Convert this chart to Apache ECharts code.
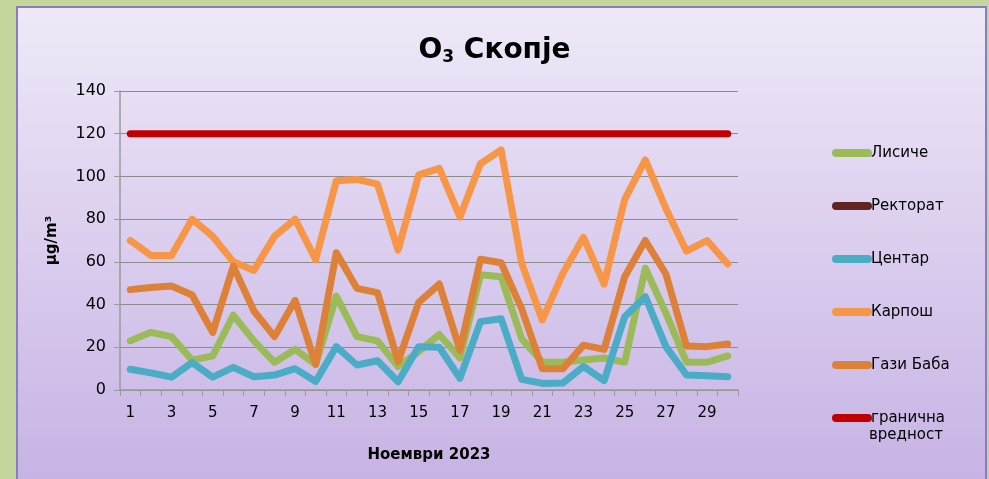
<!DOCTYPE html>
<html>
<head>
<meta charset="utf-8">
<script src="https://cdn.jsdelivr.net/npm/echarts@6/dist/echarts.min.js"></script>
<style>
html,body{margin:0;padding:0;background:#c4d69b;}
#c{width:989px;height:479px;}
</style>
</head>
<body>
<div id="c"></div>
<script>
var days = ['1','2','3','4','5','6','7','8','9','10','11','12','13','14','15','16','17','18','19','20','21','22','23','24','25','26','27','28','29','30'];
var yTicks = [0,20,40,60,80,100,120,140];
var lisice = [23,27,25,14,16,35,23,13,19,12,44,25,23,11,18,26,15,54,53,24,13,13,14,15,13,57,36,13,13,16];
var rektorat = [];
var centar = [9.7,8,6,12.8,6,10.6,6.2,7,10,4,20.3,11.7,13.7,3.9,20.3,20,5.5,32,33.4,5,3.1,3.3,11,4.4,34.3,43.7,20.3,7,6.7,6.2];
var karpos = [70,63,63,80,72,60,56,72,80,61,98,98.6,96.4,65.5,100.7,103.8,81,106,112.4,59.3,32.8,54.6,71.5,49.6,89.3,107.7,85,65,70,59];
var gazibaba = [47,48,48.7,44.5,27,58,37,25,42,12,64.3,47.6,45.6,13.3,41,49.6,18.7,61.2,59.6,38,10,10,21,19,53,70,54.3,20.6,20.3,21.5];
var granicna = [120,120,120,120,120,120,120,120,120,120,120,120,120,120,120,120,120,120,120,120,120,120,120,120,120,120,120,120,120,120];

var FONT = 'DejaVu Sans';
var chart = echarts.init(document.getElementById('c'));
function ser(name, data, color) {
  return {
    name: name, type: 'line', data: data, symbol: 'none', smooth: false,
    color: color,
    lineStyle: {width: 7, color: color, cap: 'round', join: 'round'},
    emphasis: {disabled: true}
  };
}
var icon = 'path://M4,0 L36,0 A4,4 0 0 1 36,8 L4,8 A4,4 0 0 1 4,0 Z';
chart.setOption({
  backgroundColor: '#c4d69b',
  animation: false,
  graphic: [
    {type: 'rect', z: -100, silent: true,
     shape: {x: 17, y: 7, width: 969, height: 480},
     style: {fill: new echarts.graphic.LinearGradient(0,0,0,1,[{offset:0,color:'#efe9f8'},{offset:1,color:'#c6b2e4'}]), stroke: '#8a7bc2', lineWidth: 2}},
    {type: 'text', left: 869, top: 428, silent: true,
     style: {text: 'вредност', fontSize: 15, fontFamily: FONT, fill: '#000'}}
  ],
  title: {
    text: '{a|O}{s|3}{a| Скопје}',
    left: 'center', top: 30,
    textStyle: {
      rich: {
        a: {fontSize: 28, fontWeight: 'bold', fontFamily: FONT, color: '#000'},
        s: {fontSize: 17, fontWeight: 'bold', fontFamily: FONT, color: '#000', padding: [14,0,0,0]}
      }
    }
  },
  legend: {
    orient: 'vertical', left: 827, top: 139,
    itemWidth: 40, itemHeight: 8, itemGap: 35,
    icon: icon,
    selectedMode: false,
    textStyle: {fontSize: 15, fontFamily: FONT, color: '#000', lineHeight: 18, padding: [0,0,0,-6]},
    formatter: function(n){ return n === 'гранична вредност' ? 'гранична' : n; },
    data: ['Лисиче','Ректорат','Центар','Карпош','Гази Баба','гранична вредност']
  },
  grid: {left: 120, right: 251, top: 91, bottom: 89},
  xAxis: {
    type: 'category', data: days, boundaryGap: true,
    name: 'Ноември 2023', nameLocation: 'middle', nameGap: 58,
    nameTextStyle: {fontSize: 15, fontWeight: 'bold', fontFamily: FONT, color: '#000'},
    axisLine: {lineStyle: {color: '#9a9a9a', width: 1.5}},
    axisTick: {show: true, interval: 0, length: 6, lineStyle: {color: '#9a9a9a'}},
    axisLabel: {interval: 1, fontSize: 15, fontFamily: FONT, color: '#000', margin: 16}
  },
  yAxis: {
    type: 'value', min: 0, max: 140, interval: 20,
    name: 'µg/m³', nameLocation: 'middle', nameGap: 60, nameRotate: 90,
    nameTextStyle: {fontSize: 15, fontWeight: 'bold', fontFamily: FONT, color: '#000'},
    axisLine: {show: true, lineStyle: {color: '#9a9a9a', width: 1.5}},
    axisTick: {show: true, length: 6, lineStyle: {color: '#9a9a9a'}},
    splitLine: {lineStyle: {color: '#8c8c8c', width: 1.2}},
    axisLabel: {fontSize: 16, fontFamily: FONT, color: '#000', margin: 14,
      formatter: function(v){ return yTicks.indexOf(v) >= 0 ? String(v) : ''; }}
  },
  series: [
    ser('Лисиче', lisice, '#9bbb59'),
    ser('Ректорат', rektorat, '#632523'),
    ser('Центар', centar, '#4bacc6'),
    ser('Карпош', karpos, '#f79646'),
    ser('Гази Баба', gazibaba, '#dd8139'),
    ser('гранична вредност', granicna, '#c00000')
  ]
});
</script>
</body>
</html>
